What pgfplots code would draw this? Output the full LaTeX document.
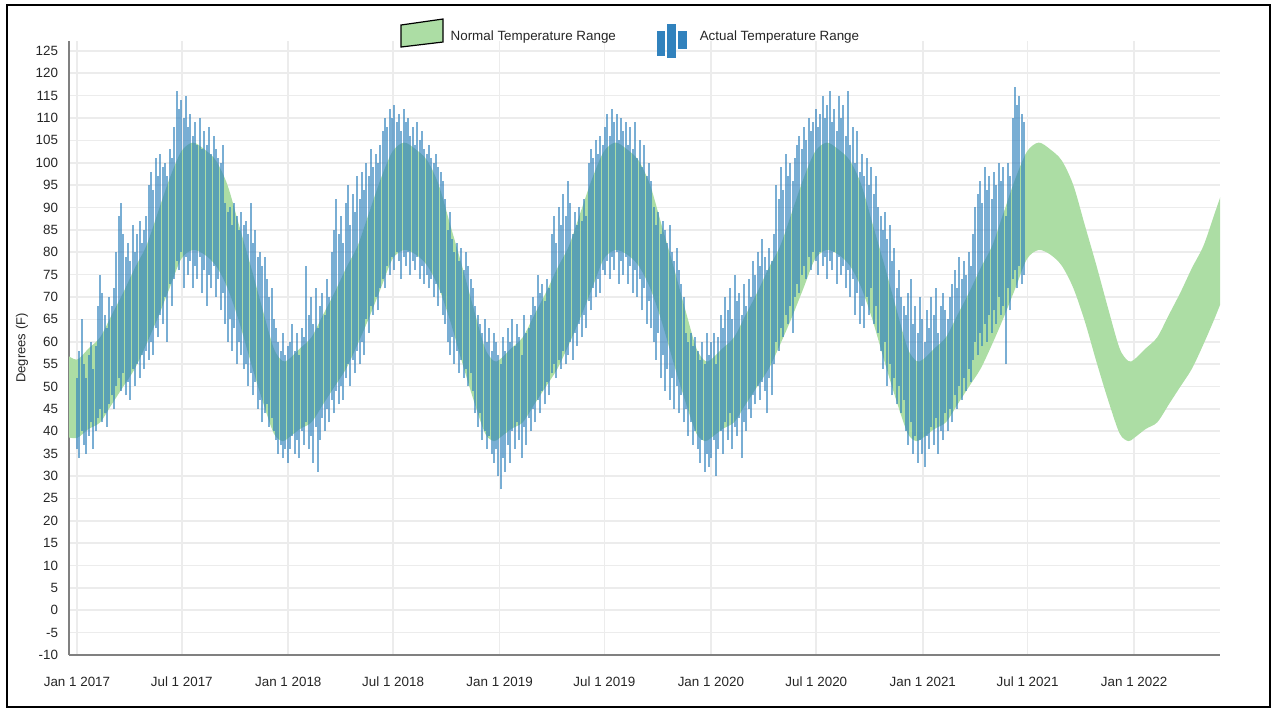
\documentclass[border=0pt]{standalone}
\usepackage{fontspec}
\setmainfont{Liberation Sans}
\usepackage{pgfplots}
\usepackage{pgfplotstable}
\pgfplotsset{compat=1.18}
\usepgfplotslibrary{fillbetween}
\definecolor{bandgreen}{RGB}{172,221,164}
\definecolor{barblue}{RGB}{49,130,189}
\definecolor{gridgray}{RGB}{236,236,236}
\definecolor{axisgray}{RGB}{128,128,128}

\pgfplotstableread{
x hi lo
-20 57.3 38.8
0 56 38.5
20 58.5 40.5
40 61 42
60 66 46
80 71 50
100 76.5 54
120 81.5 59.5
140 89 65.5
160 96.5 72
180 102.5 78.5
200 104.5 80.5
220 103 79.5
240 100.5 77
260 95 72
280 86 64.5
300 77 55.5
320 67.5 47
340 58.5 39.5
355 55.7 37.8
365 56 38.5
385 58.5 40.5
405 61 42
425 66 46
445 71 50
465 76.5 54
485 81.5 59.5
505 89 65.5
525 96.5 72
545 102.5 78.5
565 104.5 80.5
585 103 79.5
605 100.5 77
625 95 72
645 86 64.5
665 77 55.5
685 67.5 47
705 58.5 39.5
720 55.7 37.8
730 56 38.5
750 58.5 40.5
770 61 42
790 66 46
810 71 50
830 76.5 54
850 81.5 59.5
870 89 65.5
890 96.5 72
910 102.5 78.5
930 104.5 80.5
950 103 79.5
970 100.5 77
990 95 72
1010 86 64.5
1030 77 55.5
1050 67.5 47
1070 58.5 39.5
1085 55.7 37.8
1095 56 38.5
1115 58.5 40.5
1135 61 42
1155 66 46
1175 71 50
1195 76.5 54
1215 81.5 59.5
1235 89 65.5
1255 96.5 72
1275 102.5 78.5
1295 104.5 80.5
1315 103 79.5
1335 100.5 77
1355 95 72
1375 86 64.5
1395 77 55.5
1415 67.5 47
1435 58.5 39.5
1450 55.7 37.8
1461 56 38.5
1481 58.5 40.5
1501 61 42
1521 66 46
1541 71 50
1561 76.5 54
1581 81.5 59.5
1601 89 65.5
1621 96.5 72
1641 102.5 78.5
1661 104.5 80.5
1681 103 79.5
1701 100.5 77
1721 95 72
1741 86 64.5
1761 77 55.5
1781 67.5 47
1801 58.5 39.5
1816 55.7 37.8
1826 56 38.5
1846 58.5 40.5
1866 61 42
1886 66 46
1906 71 50
1926 76.5 54
1946 81.5 59.5
1966 89 65.5
1986 96.5 72
}\normtab

\pgfplotstableread{
d lo hi
0 36 52
4 34 58
8 40 65
12 37 55
16 35 52
20 39 57
24 42 60
28 36 54
32 40 59
36 43 68
40 45 75
44 42 71
48 44 66
52 41 63
56 46 70
60 48 68
64 45 72
68 50 80
72 52 88
76 49 91
80 53 84
84 48 79
88 51 82
92 47 78
96 54 86
100 50 80
104 55 84
108 52 87
112 57 82
116 54 85
120 58 88
124 56 95
128 60 98
132 57 94
136 63 101
140 61 97
144 66 102
148 64 99
152 70 100
156 60 97
160 73 103
164 68 101
168 74 108
172 78 116
176 76 112
180 80 114
184 72 110
188 79 115
192 75 108
196 78 111
200 72 106
204 77 109
208 74 104
212 79 110
216 71 103
220 76 107
224 68 104
228 75 108
232 72 102
236 77 106
240 70 103
244 74 101
248 67 100
252 71 104
256 64 91
260 60 89
264 65 90
268 58 86
272 63 91
276 55 88
280 60 85
284 57 89
288 54 86
292 55 87
296 50 84
300 53 91
304 48 82
308 51 85
312 45 79
316 47 80
320 42 77
324 44 79
328 46 74
332 41 70
336 43 72
340 40 65
344 38 63
348 35 60
352 37 58
356 34 62
360 36 57
364 33 59
368 36 60
372 39 64
376 35 58
380 38 62
384 34 57
388 40 63
392 37 61
396 42 77
400 36 66
404 39 70
408 33 64
412 41 72
416 31 63
420 38 68
424 43 71
428 40 66
432 45 74
436 42 70
440 47 80
444 44 85
448 49 92
452 46 84
456 50 88
460 47 82
464 52 91
468 55 95
472 50 86
476 56 93
480 53 89
484 58 97
488 55 92
492 60 98
496 57 94
500 65 100
504 62 97
508 68 103
512 66 99
516 70 102
520 67 100
524 72 104
528 74 107
532 72 110
536 77 108
540 75 112
544 79 110
548 76 113
552 80 109
556 78 111
560 74 107
564 79 112
568 77 109
572 80 110
576 75 106
580 78 108
584 76 104
588 79 109
592 74 105
596 77 107
600 73 103
604 75 102
608 72 104
612 74 101
616 70 100
620 73 102
624 68 99
628 71 98
632 66 96
636 64 92
640 60 85
644 57 89
648 61 83
652 55 80
656 58 82
660 53 78
664 56 81
668 52 76
672 54 80
676 50 77
680 53 74
684 49 72
688 44 68
692 41 66
696 44 64
700 38 62
704 40 65
708 36 60
712 39 63
716 35 58
720 33 62
724 36 60
728 30 57
732 27 55
736 34 61
740 31 58
744 37 63
748 33 60
752 40 65
756 36 59
760 42 64
764 38 61
768 34 57
772 41 66
776 37 62
780 43 63
784 40 66
788 45 70
792 42 68
796 47 75
800 44 71
804 49 73
808 46 69
812 51 74
816 48 72
820 53 84
824 55 88
828 52 82
832 56 90
836 54 86
840 58 93
844 55 88
848 57 96
852 60 91
856 56 84
860 62 89
864 59 86
868 64 90
872 61 87
876 66 92
880 63 88
884 69 100
888 67 103
892 72 101
896 70 105
900 74 102
904 71 106
908 76 104
912 75 108
916 78 111
920 74 106
924 79 112
928 76 109
932 80 111
936 73 105
940 78 110
944 75 107
948 79 109
952 73 104
956 77 108
960 71 103
964 76 109
968 70 101
972 74 105
976 67 99
980 72 104
984 64 97
988 69 100
992 63 96
996 60 90
1000 56 86
1004 62 89
1008 52 84
1012 57 87
1016 49 85
1020 54 82
1024 47 86
1028 52 80
1032 45 78
1036 50 81
1040 44 76
1044 48 73
1048 42 70
1052 45 62
1056 39 60
1060 42 62
1064 37 59
1068 40 61
1072 36 58
1076 33 56
1080 38 60
1084 31 55
1088 35 62
1092 32 57
1096 34 60
1100 38 62
1104 30 55
1108 36 61
1112 40 66
1116 35 63
1120 42 70
1124 38 67
1128 44 72
1132 36 65
1136 41 75
1140 39 69
1144 43 71
1148 34 66
1152 42 73
1156 40 68
1160 45 74
1164 43 70
1168 48 78
1172 46 75
1176 50 80
1180 47 77
1184 51 83
1188 49 79
1192 44 76
1196 52 81
1200 48 78
1204 55 84
1208 60 95
1212 58 92
1216 63 99
1220 61 94
1224 66 102
1228 64 97
1232 68 100
1236 62 96
1240 70 101
1244 73 104
1248 71 106
1252 75 103
1256 77 108
1260 74 105
1264 79 110
1268 76 107
1272 80 109
1276 78 112
1280 75 108
1284 80 111
1288 77 115
1292 79 110
1296 74 113
1300 78 116
1304 76 109
1308 80 112
1312 73 107
1316 79 115
1320 75 110
1324 77 113
1328 72 106
1332 76 116
1336 70 104
1340 74 108
1344 66 100
1348 71 107
1352 64 98
1356 68 102
1360 63 97
1364 70 101
1368 66 95
1372 72 99
1376 64 93
1380 68 97
1384 62 90
1388 58 88
1392 54 85
1396 60 89
1400 50 83
1404 55 86
1408 48 78
1412 52 81
1416 46 72
1420 50 76
1424 44 70
1428 47 68
1432 40 66
1436 37 71
1440 42 74
1444 35 64
1448 39 68
1452 33 62
1456 38 70
1460 35 65
1464 32 60
1468 39 67
1472 36 63
1476 41 70
1480 37 66
1484 43 72
1488 35 62
1492 40 68
1496 38 71
1500 44 67
1504 40 65
1508 45 70
1512 42 73
1516 48 76
1520 45 72
1524 50 79
1528 47 74
1532 52 78
1536 49 75
1540 54 80
1544 51 77
1548 56 84
1552 60 90
1556 57 93
1560 62 96
1564 59 91
1568 64 99
1572 60 94
1576 66 97
1580 62 92
1584 67 98
1588 64 95
1592 70 100
1596 66 96
1600 68 99
1604 55 88
1608 72 100
1612 67 97
1616 74 110
1620 76 117
1624 72 113
1628 77 115
1632 73 111
1636 75 109
}\acttab

\begin{document}
\begin{tikzpicture}
\begin{axis}[
  at={(34.5pt,27pt)}, anchor=south west,
  scale only axis, width=575.5pt, height=307pt,
  xmin=-13.8, xmax=1974.4, ymin=-10, ymax=127.2,
  axis x line=bottom, axis y line=left,
  axis line style={-, draw=axisgray, line width=1.2pt},
  xtick={0,181,365,546,730,911,1095,1277,1461,1642,1826},
  xticklabels={Jan 1 2017,Jul 1 2017,Jan 1 2018,Jul 1 2018,Jan 1 2019,Jul 1 2019,Jan 1 2020,Jul 1 2020,Jan 1 2021,Jul 1 2021,Jan 1 2022},
  ytick={-10,-5,...,125},
  major tick length=0pt,
  grid=major,
  major grid style={draw=gridgray, line width=0.8pt},
  ticklabel style={font=\fontsize{6.7}{8}\selectfont, text=black!85},
  yticklabel style={inner sep=0pt, xshift=-5.3pt},
  xticklabel style={anchor=base, inner sep=0pt, yshift=-15.5pt},
  /pgf/number format/assume math mode=true,
  ylabel={Degrees (F)},
  ylabel style={at={(axis description cs:-0.0408,0.5)}, anchor=center, font=\fontsize{6.5}{8}\selectfont, text=black!85},
  legend columns=2,
  legend style={at={(axis description cs:0.2876,1.0065)}, anchor=west, draw=none, fill=none, inner sep=0pt,
    font=\fontsize{6.7}{8}\selectfont, text=black!85, nodes={inner sep=0pt},
    /tikz/every odd column/.append style={column sep=3.5pt},
    /tikz/every even column/.append style={column sep=20.5pt}},
]
\addplot[name path=up, draw=none, smooth, forget plot] table[x=x, y=hi]{\normtab};
\addplot[name path=dn, draw=none, smooth, forget plot] table[x=x, y=lo]{\normtab};
\addplot[fill=bandgreen, draw=none, forget plot] fill between[of=up and dn];
\addplot[draw=none, mark=none, forget plot,
  error bars/.cd, y dir=plus, y explicit, error mark=none,
  error bar style={draw=barblue, line width=1.0pt, opacity=0.65}]
  table[x=d, y=lo, y error plus expr=\thisrow{hi}-\thisrow{lo}]{\acttab};
\addlegendimage{legend image code/.code={
  \path (0pt,-9pt) (0pt,9pt);
  \draw[fill=bandgreen, draw=black, line width=0.6pt] (0pt,-5pt) -- (0pt,6pt) -- (21pt,9pt) -- (21pt,-2.5pt) -- cycle;}}
\addlegendentry{Normal Temperature Range}
\addlegendimage{legend image code/.code={
  \path (0pt,-10pt) (0pt,10pt) (17.5pt,0pt);
  \fill[barblue] (0pt,-9pt) rectangle (3.5pt,3pt);
  \fill[barblue] (5pt,-10pt) rectangle (9pt,6.5pt);
  \fill[barblue] (10.5pt,-5.5pt) rectangle (14.5pt,3pt);}}
\addlegendentry{Actual Temperature Range}
\end{axis}
\path (0pt,0pt) (636.5pt,354.5pt);
\draw[line width=1pt] (3.5pt,1pt) rectangle (635pt,352pt);
\end{tikzpicture}
\end{document}
